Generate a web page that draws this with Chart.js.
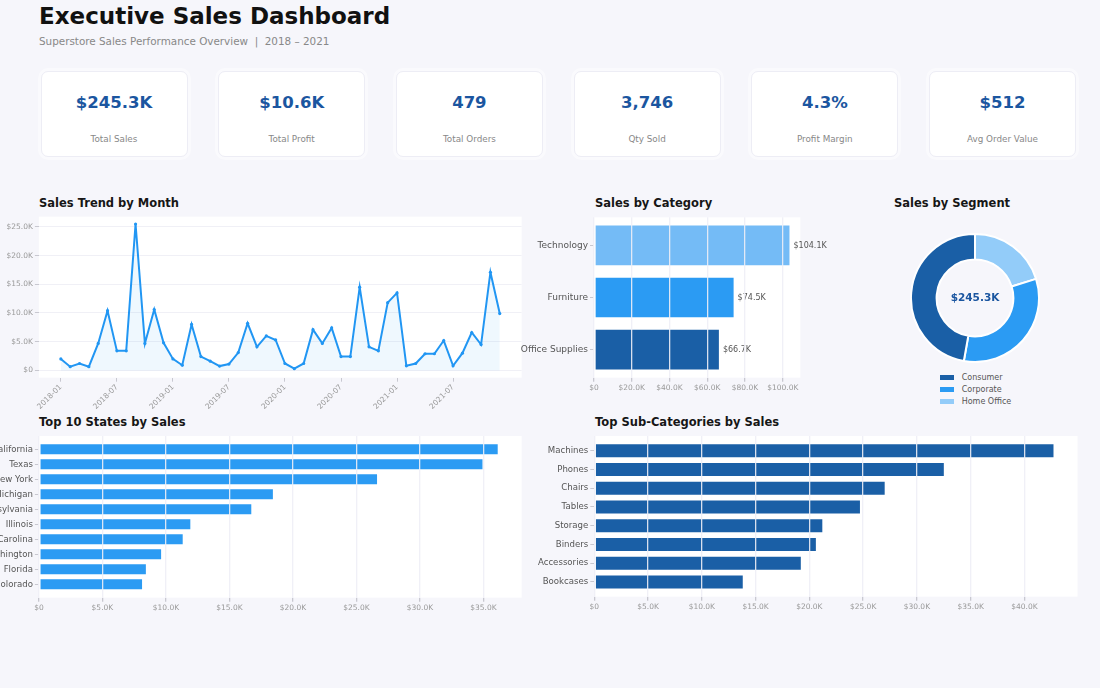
<!DOCTYPE html>
<html>
<head>
<meta charset="utf-8">
<title>Executive Sales Dashboard</title>
<script src="https://cdn.jsdelivr.net/npm/chart.js@4.4.1/dist/chart.umd.min.js"></script>
<style>
  body { margin: 0; width: 1100px; height: 688px; background: #f6f6fb; font-family: "DejaVu Sans", sans-serif; position: relative; overflow: hidden; }
  .txt { position: absolute; line-height: 1; white-space: nowrap; margin: 0; }
  h1.txt { left: 39px; top: 4.5px; font-size: 23px; font-weight: bold; color: #111; }
  .sub { left: 39px; top: 35.5px; font-size: 10.4px; color: #888; }
  .ttl { font-size: 11.5px; font-weight: bold; color: #161616; }
  .card { position: absolute; top: 71px; width: 147px; height: 86px; background: #fff; border-radius: 7px;
          border: 1px solid #ededf5; box-sizing: border-box; box-shadow: 0 0 0 3px rgba(255,255,255,0.45); }
  .card .v { position: absolute; left: 0; right: 0; top: 23px; text-align: center; font-size: 16.5px; font-weight: bold; color: #1b56a0; line-height: 1; }
  .card .l { position: absolute; left: 0; right: 0; top: 63px; text-align: center; font-size: 8.8px; color: #888; line-height: 1; }
  .box { position: absolute; }
  .legend { position: absolute; left: 940px; top: 371px; font-size: 8px; color: #555; }
  .legend div { height: 12.4px; display: flex; align-items: center; }
  .legend span.sw { display: inline-block; width: 14px; height: 5px; margin-right: 7.7px; }
</style>
</head>
<body>
<h1 class="txt">Executive Sales Dashboard</h1>
<div class="txt sub">Superstore Sales Performance Overview &nbsp;|&nbsp; 2018 – 2021</div>
<div id="cards"></div>

<div class="txt ttl" style="left:39px;top:197.8px">Sales Trend by Month</div>
<div class="txt ttl" style="left:595px;top:197.8px">Sales by Category</div>
<div class="txt ttl" style="left:952px;top:197.8px;transform:translateX(-50%)">Sales by Segment</div>
<div class="txt ttl" style="left:39px;top:416.8px">Top 10 States by Sales</div>
<div class="txt ttl" style="left:595px;top:416.8px">Top Sub-Categories by Sales</div>

<div class="box" style="left:0;top:216px"><canvas id="trend" width="522" height="202"></canvas></div>
<div class="box" style="left:510px;top:217px"><canvas id="category" width="330" height="181"></canvas></div>
<div class="box" style="left:910px;top:233px"><canvas id="segment" width="130" height="130"></canvas></div>
<div class="legend" id="segLegend"></div>
<div class="box" style="left:0;top:436px"><canvas id="states" width="522" height="182"></canvas></div>
<div class="box" style="left:530px;top:436px"><canvas id="subcats" width="548" height="181"></canvas></div>

<script>
// KPI cards
const kpiValues = ["$245.3K", "$10.6K", "479", "3,746", "4.3%", "$512"];
const kpiLabels = ["Total Sales", "Total Profit", "Total Orders", "Qty Sold", "Profit Margin", "Avg Order Value"];

// monthly sales, $K, 2018-01 .. 2021-12
const monthlySalesK = [
  2.0, 0.65, 1.2, 0.65, 4.7, 10.4, 3.4, 3.4, 25.5, 4.7, 10.6, 4.8,
  2.0, 0.9, 8.0, 2.4, 1.6, 0.75, 1.1, 3.1, 8.2, 4.1, 6.0, 5.3,
  1.2, 0.3, 1.2, 7.1, 4.7, 7.4, 2.4, 2.4, 14.5, 4.1, 3.4, 11.8,
  13.5, 0.8, 1.2, 2.9, 2.9, 5.2, 0.8, 3.0, 6.6, 4.5, 17.1, 9.9
];
const trendTickLabels = ["2018-01", "2018-07", "2019-01", "2019-07", "2020-01", "2020-07", "2021-01", "2021-07"];
const trendTickMonths = [0, 6, 12, 18, 24, 30, 36, 42];
const trendTicksK = [0, 5, 10, 15, 20, 25];

const categories = ["Technology", "Furniture", "Office Supplies"];
const categorySalesK = [104.1, 74.5, 66.7];
const categoryTicksK = [0, 20, 40, 60, 80, 100];

const segments = ["Consumer", "Corporate", "Home Office"];
const segmentSalesK = [115.8, 80.0, 49.5];

const states = ["California", "Texas", "New York", "Michigan", "Pennsylvania", "Illinois", "North Carolina", "Washington", "Florida", "Colorado"];
const stateSalesK = [36.2, 35.0, 26.7, 18.5, 16.8, 12.0, 11.4, 9.7, 8.5, 8.2];
const stateTicksK = [0, 5, 10, 15, 20, 25, 30, 35];

const subCategories = ["Machines", "Phones", "Chairs", "Tables", "Storage", "Binders", "Accessories", "Bookcases"];
const subCategorySalesK = [42.8, 32.6, 27.1, 24.8, 21.3, 20.7, 19.3, 13.9];
const subCategoryTicksK = [0, 5, 10, 15, 20, 25, 30, 35, 40];

const DARK = "#1a5fa6", MID = "#2b9bf3", LIGHT = "#74bbf6", PALE = "#93ccf9", LINE = "#2196f3";
const FONT = "'DejaVu Sans', sans-serif";
const fmtK = (v) => (v === 0 ? "$0" : "$" + v.toFixed(1) + "K");

Chart.defaults.font.family = FONT;
Chart.defaults.animation = false;
Chart.defaults.layout.autoPadding = false;

// cards
document.getElementById("cards").innerHTML = kpiValues.map((v, i) =>
  `<div class="card" style="left:${40.5 + i * 177.7}px"><div class="v">${v}</div><div class="l">${kpiLabels[i]}</div></div>`
).join("");

// legend for the donut
document.getElementById("segLegend").innerHTML = segments.map((s, i) =>
  `<div><span class="sw" style="background:${[DARK, MID, PALE][i]}"></span>${s}</div>`
).join("");

const whiteArea = {
  id: "whiteArea",
  beforeDraw(chart) {
    const a = chart.chartArea, ctx = chart.ctx;
    ctx.save();
    ctx.fillStyle = "#ffffff";
    ctx.fillRect(a.left, a.top, a.right - a.left, a.bottom - a.top);
    ctx.restore();
  }
};

function fixTicks(list) {
  return (scale) => { scale.ticks = list.map((v) => ({ value: v })); };
}
// fixed axis size, and no extra padding for overflowing labels
function fixSize(prop, px) {
  return (s) => {
    s[prop] = px;
    s.paddingTop = s.paddingBottom = s.paddingLeft = s.paddingRight = 0;
  };
}
const tickFont = { size: 7.5, family: FONT };
const tickGray = "#999";
const tickMark = "#c8c8d0";

// sales trend
new Chart(document.getElementById("trend"), {
  type: "line",
  data: {
    datasets: [{
      data: monthlySalesK.map((v, i) => ({ x: i, y: v })),
      borderColor: LINE,
      borderWidth: 2,
      backgroundColor: "rgba(33,150,243,0.07)",
      fill: "origin",
      pointRadius: 1.6,
      pointBackgroundColor: LINE,
      pointBorderWidth: 0,
      tension: 0
    }]
  },
  options: {
    responsive: false,
    layout: { padding: { top: 0.7, right: 0.3 } },
    plugins: { legend: { display: false }, tooltip: { enabled: false } },
    scales: {
      x: {
        type: "linear",
        min: -0.05 * (monthlySalesK.length - 1),
        max: (monthlySalesK.length - 1) * 1.05,
        afterBuildTicks: fixTicks(trendTickMonths),
        afterFit: fixSize("height", 40.3),
        border: { display: false },
        grid: { drawOnChartArea: false, tickColor: tickMark, tickLength: 4 },
        ticks: {
          autoSkip: false, minRotation: 45, maxRotation: 45, padding: 1,
          font: tickFont, color: tickGray,
          callback: (v) => trendTickLabels[trendTickMonths.indexOf(v)]
        }
      },
      y: {
        min: -0.05 * Math.max(...monthlySalesK),
        max: Math.max(...monthlySalesK) * 1.05,
        afterBuildTicks: fixTicks(trendTicksK),
        afterFit: fixSize("width", 38.9),
        border: { display: false },
        grid: { color: "#f0f0f6", tickColor: tickMark, tickLength: 4 },
        ticks: { autoSkip: false, padding: 2, font: tickFont, color: tickGray, callback: fmtK }
      }
    }
  },
  plugins: [whiteArea]
});

// horizontal bar helper
function hbar(id, labels, values, ticks, colors, yWidth, labelSize, pad, extra) {
  const n = labels.length;
  return new Chart(document.getElementById(id), {
    type: "bar",
    data: {
      datasets: [{
        data: values.map((v, i) => ({ x: v, y: i })),
        backgroundColor: colors,
        borderColor: "rgba(255,255,255,0.7)",
        borderWidth: 1,
        borderSkipped: false,
        categoryPercentage: 1,
        barPercentage: 0.8
      }]
    },
    options: {
      indexAxis: "y",
      responsive: false,
      layout: { padding: pad },
      plugins: { legend: { display: false }, tooltip: { enabled: false } },
      scales: {
        x: {
          type: "linear",
          min: 0,
          max: Math.max(...values) * 1.05,
          afterBuildTicks: fixTicks(ticks),
          afterFit: fixSize("height", 20.3),
          border: { display: false },
          grid: { z: 1, color: "rgba(238,238,246,0.9)", lineWidth: 1.3, tickColor: tickMark, tickLength: 4 },
          ticks: { autoSkip: false, maxRotation: 0, padding: 2, font: tickFont, color: tickGray, callback: fmtK }
        },
        y: {
          type: "linear",
          reverse: true,
          offset: false,
          min: -0.4 - 0.05 * (n - 0.2),
          max: n - 1 + 0.4 + 0.05 * (n - 0.2),
          afterBuildTicks: fixTicks(labels.map((_, i) => i)),
          afterFit: fixSize("width", yWidth),
          border: { display: false },
          grid: { offset: false, drawOnChartArea: false, tickColor: tickMark, tickLength: 4 },
          ticks: { autoSkip: false, padding: 2, font: { size: labelSize, family: FONT }, color: "#555", callback: (v) => labels[v] }
        }
      }
    },
    plugins: [whiteArea].concat(extra || [])
  });
}

const categoryValueLabels = {
  id: "categoryValueLabels",
  afterDatasetsDraw(chart) {
    const ctx = chart.ctx;
    ctx.save();
    ctx.font = "8px " + FONT;
    ctx.fillStyle = "#555";
    ctx.textBaseline = "middle";
    chart.getDatasetMeta(0).data.forEach((bar, i) => {
      ctx.fillText(fmtK(categorySalesK[i]), bar.x + 3, bar.y);
    });
    ctx.restore();
  }
};

hbar("category", categories, categorySalesK, categoryTicksK, [LIGHT, MID, DARK], 84, 9, { top: 0.3, right: 39.7 }, [categoryValueLabels]);
hbar("states", states, stateSalesK, stateTicksK, MID, 38.9, 8.6, { right: 0.3 });
hbar("subcats", subCategories, subCategorySalesK, subCategoryTicksK, DARK, 64.3, 8.6, { right: 0.5 });

// donut (drawn clockwise, so order reversed to match counter-clockwise layout)
const centerTotal = {
  id: "centerTotal",
  afterDraw(chart) {
    const a = chart.chartArea, ctx = chart.ctx;
    const total = segmentSalesK.reduce((s, v) => s + v, 0);
    ctx.save();
    ctx.font = "bold 10.5px " + FONT;
    ctx.fillStyle = "#1b56a0";
    ctx.textAlign = "center";
    ctx.textBaseline = "middle";
    ctx.fillText("$" + total.toFixed(1) + "K", (a.left + a.right) / 2, (a.top + a.bottom) / 2);
    ctx.restore();
  }
};

new Chart(document.getElementById("segment"), {
  type: "doughnut",
  data: {
    labels: segments.slice().reverse(),
    datasets: [{
      data: segmentSalesK.slice().reverse(),
      backgroundColor: [PALE, MID, DARK],
      borderColor: "#ffffff",
      borderWidth: 2
    }]
  },
  options: {
    responsive: false,
    cutout: "60%",
    plugins: { legend: { display: false }, tooltip: { enabled: false } }
  },
  plugins: [centerTotal]
});
</script>
</body>
</html>
